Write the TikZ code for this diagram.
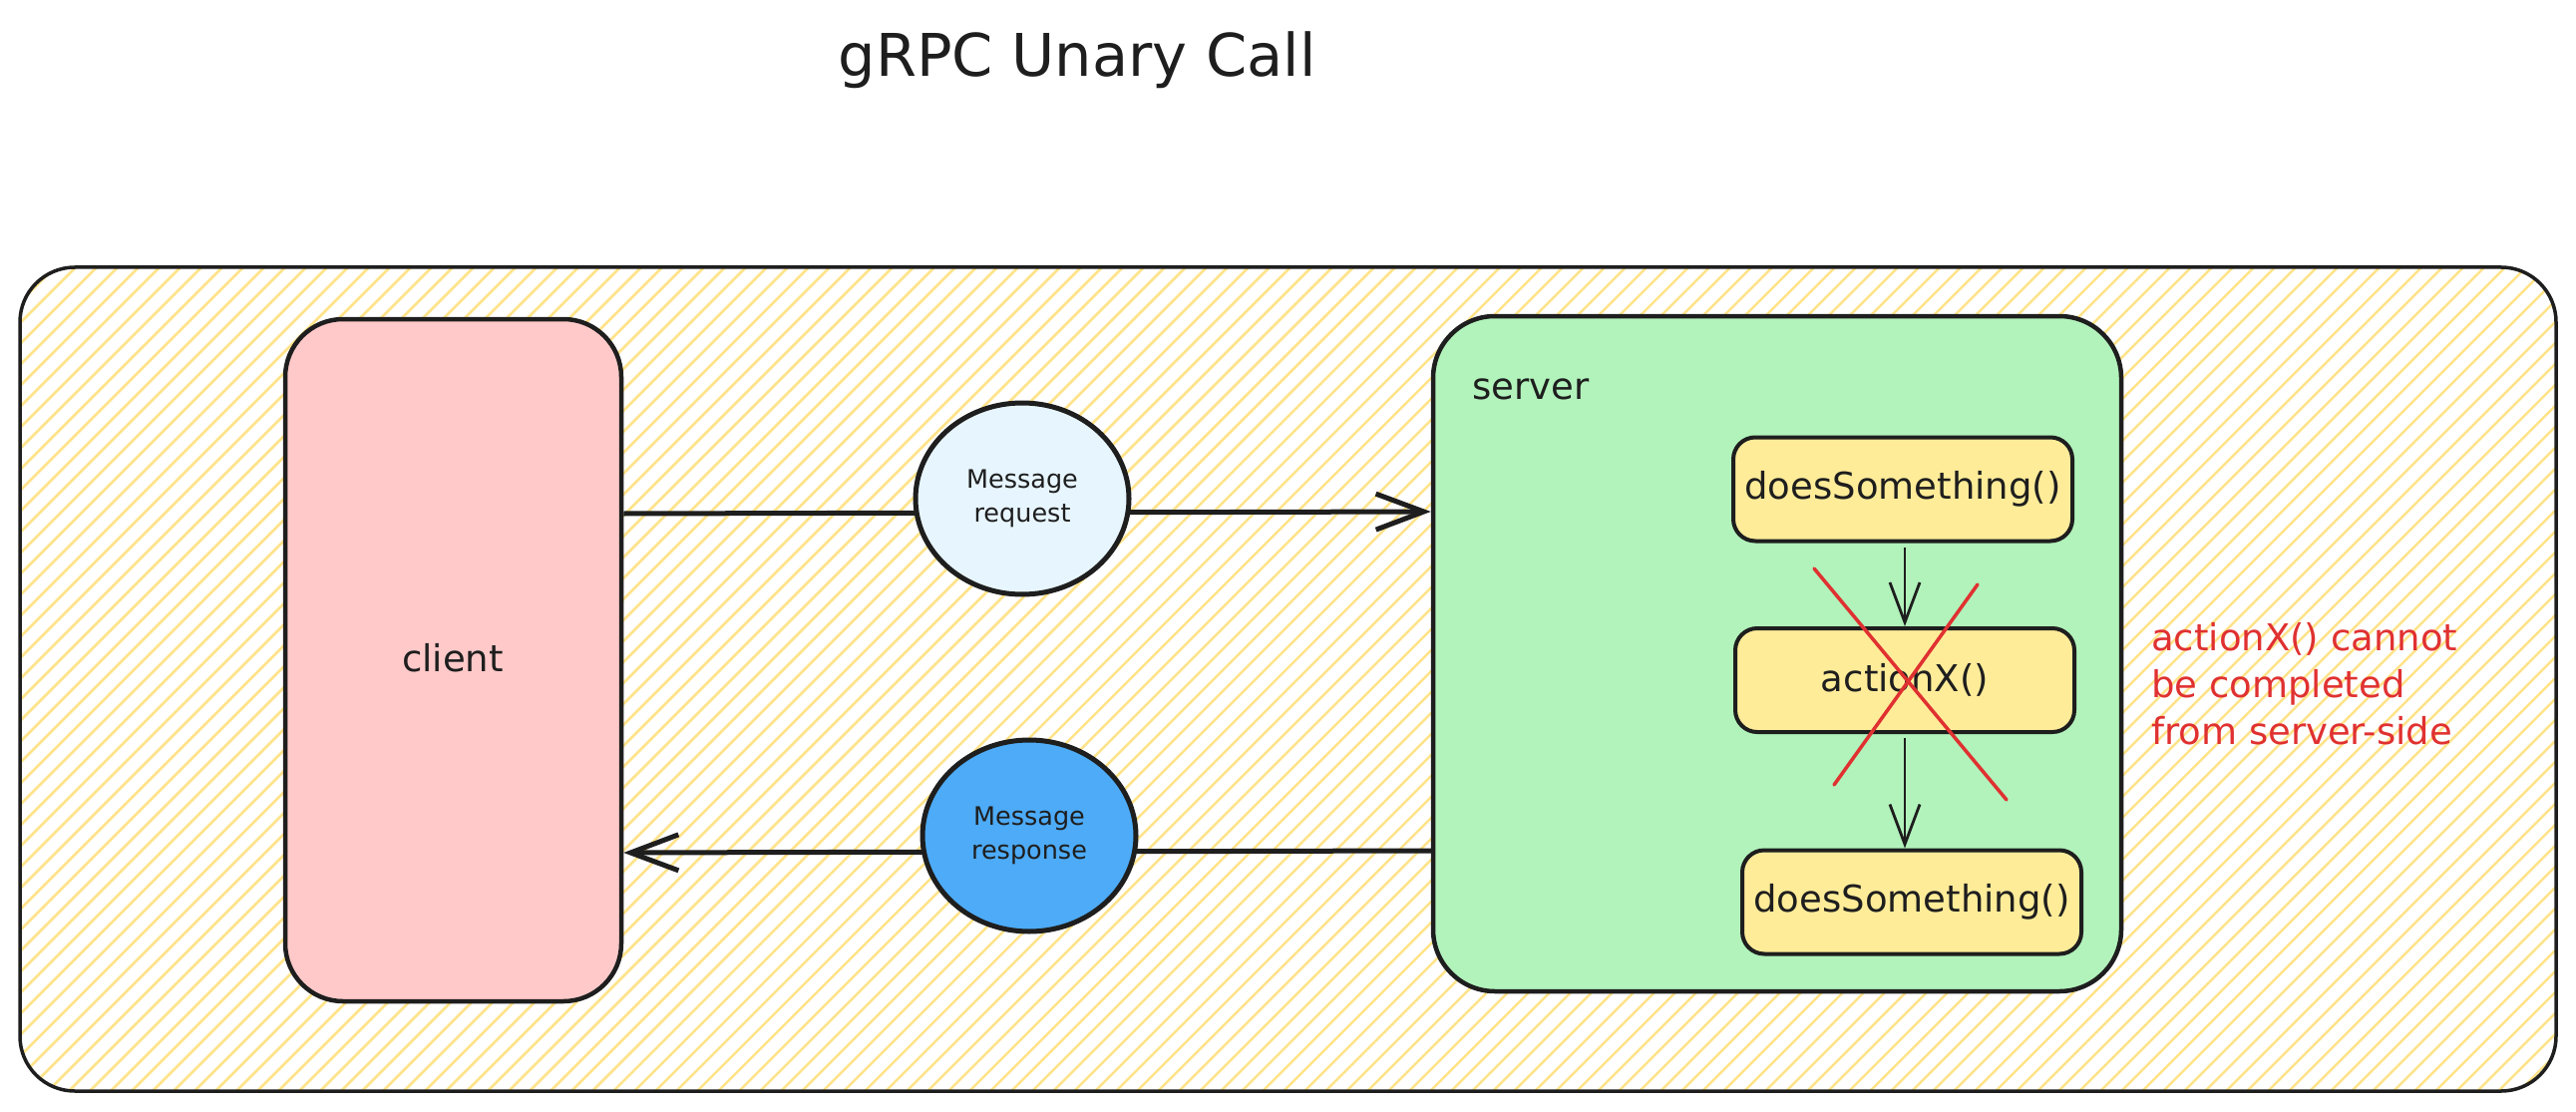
\documentclass[tikz,border=0pt]{standalone}
\usepackage{fontspec}
\setmainfont{DejaVu Sans}
\usetikzlibrary{arrows.meta,shapes.geometric}
\definecolor{ink}{HTML}{1E1E1E}
\definecolor{hatchcol}{HTML}{FFE38A}
\definecolor{clientfill}{HTML}{FFC9C9}
\definecolor{reqfill}{HTML}{E7F5FF}
\definecolor{respfill}{HTML}{4DABF7}
\definecolor{serverfill}{HTML}{B2F2BB}
\definecolor{fnfill}{HTML}{FFEC99}
\definecolor{alertred}{HTML}{E03131}
\begin{document}
\begin{tikzpicture}[x=1pt,y=-1pt,
  every node/.style={text=ink, inner sep=0pt},
  framebox/.style={draw=ink, line width=3.5pt, rounded corners=55pt},
  bigbox/.style={draw=ink, line width=4.5pt, rounded corners=58pt},
  fnbox/.style={draw=ink, fill=fnfill, line width=4pt, rounded corners=22pt,
    minimum width=340pt, minimum height=104pt, font=\fontsize{37}{44}\selectfont},
  msg/.style={ellipse, draw=ink, line width=5pt, minimum width=214pt,
    minimum height=192pt, align=center, font=\fontsize{25.5}{34}\selectfont},
  flow/.style={draw=ink, line width=5pt, -{Straight Barb[length=48pt,width=36pt]}},
  innerflow/.style={draw=ink, line width=2.8pt, -{Straight Barb[length=40pt,width=30pt]}},
  cross/.style={draw=alertred, line width=3.5pt, line cap=round},
  hatchline/.style={draw=hatchcol, line width=2.5pt}
]
\useasboundingbox (0,0) rectangle (2583,1115);

% title
\node[anchor=base, font=\fontsize{59}{70}\selectfont] (title) at (1080,77) {gRPC Unary Call};

% outer frame with hatch
\begin{scope}
  \clip[rounded corners=55pt] (20,268) rectangle (2563,1094);
  \foreach \i in {-840,-819,...,2580}
    \draw[hatchline] (\i,1100) -- ++(840,-840);
\end{scope}
\node[framebox, minimum width=2543pt, minimum height=826pt] (frame) at (1291.5,681) {};

% client and server
\node[bigbox, fill=clientfill, minimum width=337pt, minimum height=684pt] (client) at (454.5,662) {};
\node[anchor=base, font=\fontsize{37}{44}\selectfont] (clientlbl) at (454,673) {client};
\node[bigbox, fill=serverfill, minimum width=690pt, minimum height=677pt, rounded corners=62pt] (server) at (1782,655.5) {};
\node[anchor=base west, font=\fontsize{37}{44}\selectfont] (serverlbl) at (1476,400) {server};

% message flows
\draw[flow] (client.east |- 0,515) -- (server.west |- 0,513);
\draw[flow] (server.west |- 0,853) -- (client.east |- 0,855);

\node[msg, fill=reqfill] (req) at (1025,500) {Message\\request};
\node[msg, fill=respfill] (resp) at (1032,838) {Message\\response};

% functions
\node[fnbox] (ds1) at (1908,490.5) {doesSomething()};
\node[fnbox] (ax) at (1910,682) {actionX()};
\node[fnbox] (ds2) at (1917,904.5) {doesSomething()};

\draw[innerflow] (ds1.south -| 1910,0) ++(0,4) -- (ax.north -| 1910,0);
\draw[innerflow] (ax.south -| 1910,0) ++(0,4) -- (ds2.north -| 1910,0);

% red cross
\coordinate (xa1) at (1819,570);
\coordinate (xa2) at (2012,802);
\coordinate (xb1) at (1983,586);
\coordinate (xb2) at (1839,787);
\draw[cross] (xa1) -- (xa2);
\draw[cross] (xb1) -- (xb2);

% note
\node[anchor=west, align=left, text=alertred, font=\fontsize{37}{47}\selectfont] (note) at (2157,686)
  {actionX() cannot\\be completed\\from server-side};
\end{tikzpicture}
\end{document}
